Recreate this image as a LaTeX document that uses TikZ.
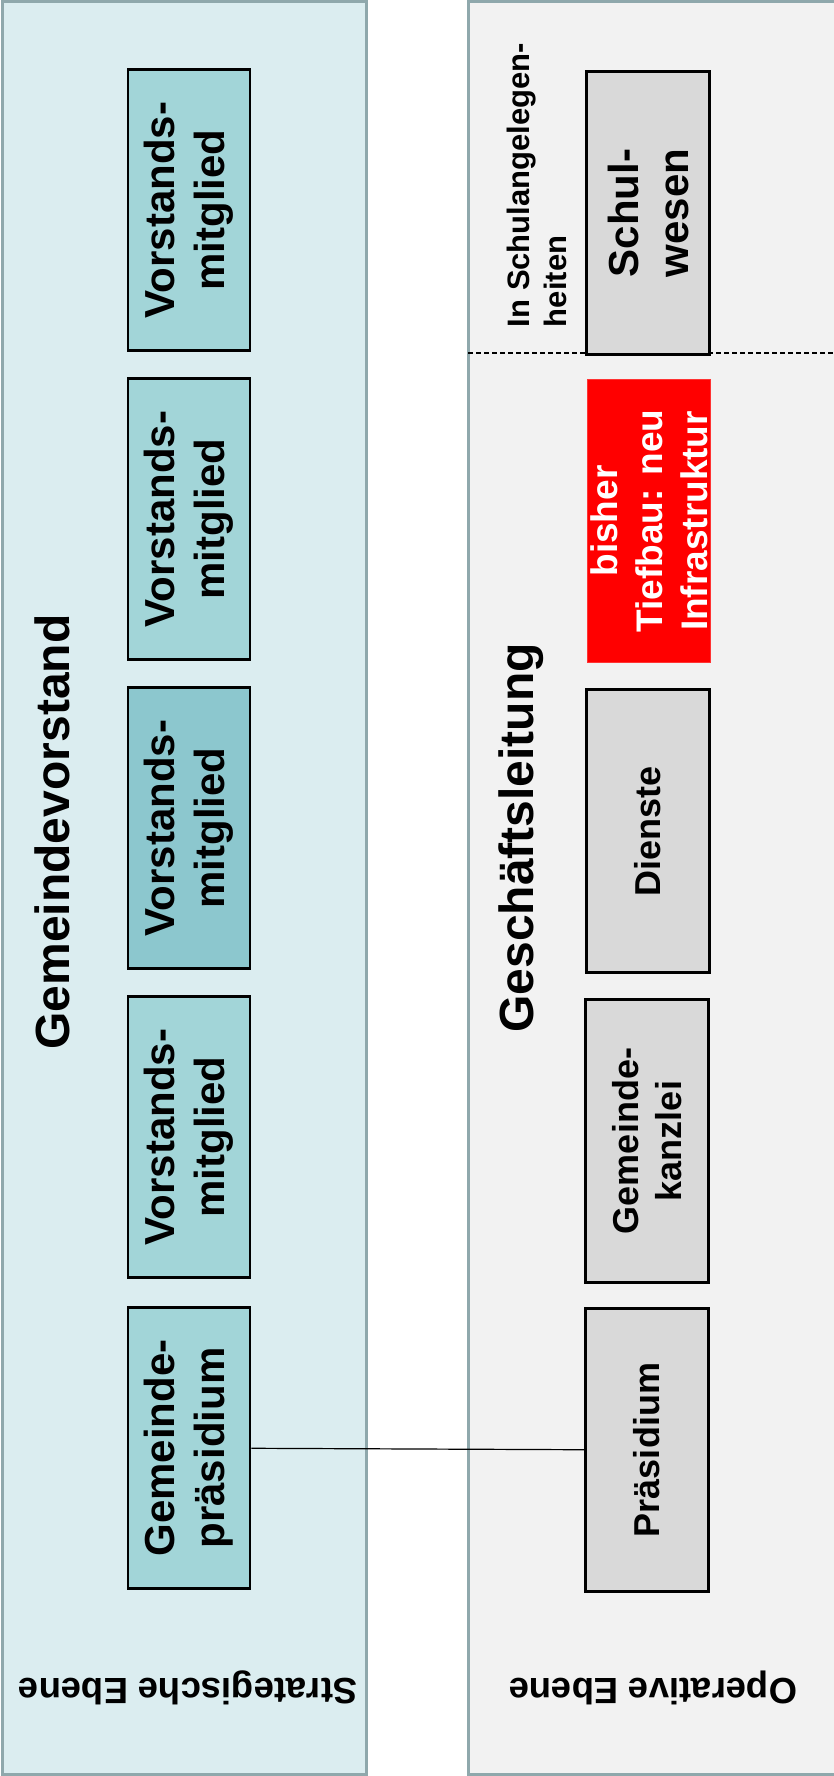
\documentclass[tikz,border=0pt]{standalone}
\usepackage{fontspec}
\setmainfont{Liberation Sans}
\definecolor{panelline}{RGB}{143,168,172}
\definecolor{strfill}{RGB}{219,237,240}
\definecolor{opfill}{RGB}{242,242,242}
\definecolor{gvfill}{RGB}{162,213,216}
\definecolor{gvdark}{RGB}{140,199,206}
\definecolor{glfill}{RGB}{217,217,217}
\begin{document}
\begin{tikzpicture}[x=1pt,y=-1pt,
  panel/.style={draw=panelline, line width=3pt},
  gvbox/.style={draw, line width=2.5pt, fill=gvfill, rotate=90, minimum width=281pt, minimum height=122pt, inner sep=0pt, align=center, font=\bfseries\fontsize{42}{50}\selectfont},
  glbox/.style={draw, line width=2.5pt, fill=glfill, rotate=90, minimum width=283pt, minimum height=123pt, inner sep=0pt, align=center, font=\bfseries\fontsize{36}{43}\selectfont},
  title/.style={rotate=90, font=\bfseries\fontsize{48}{56}\selectfont},
  ebene/.style={rotate=180, font=\bfseries\fontsize{36.5}{44}\selectfont}]
\useasboundingbox (0,0) rectangle (833,1776);
\draw[panel, fill=strfill] (2,2) rectangle (366,1774);
\draw[panel, fill=opfill] (468,2) rectangle (838,1774);
\coordinate (sepl) at (468,353);
\coordinate (sepr) at (833,353);
\draw[dash pattern=on 5pt off 3pt, line width=1.2pt] (sepl) -- (sepr);
\node[title] (gv) at (52,832){Gemeindevorstand};
\node[ebene] (strat) at (188,1688){Strategische Ebene};
\node[gvbox] (vm1) at (189,210){Vorstands-\\mitglied};
\node[gvbox] (vm2) at (189,519){Vorstands-\\mitglied};
\node[gvbox, fill=gvdark] (vm3) at (189,828){Vorstands-\\mitglied};
\node[gvbox] (vm4) at (189,1137){Vorstands-\\mitglied};
\node[gvbox] (gpraes) at (189,1448){Gemeinde-\\präsidium};
\node[title] (gl) at (521,838){Geschäftsleitung};
\node[ebene] (oper) at (653,1688){Operative Ebene};
\node[rotate=90, align=left, font=\bfseries\fontsize{31}{37}\selectfont] (schulang) at (537,185){In Schulangelegen-\\heiten};
\node[glbox, font=\bfseries\fontsize{42}{50}\selectfont] (schul) at (648,213){Schul-\\wesen};
\node[glbox, draw=red!80, line width=0.5pt, fill=red, text=white, font=\bfseries\fontsize{37}{45}\selectfont] (tief) at (649,521){bisher\\Tiefbau: neu\\Infrastruktur};
\node[glbox] (dienste) at (648,831){Dienste};
\node[glbox] (kanzlei) at (647,1141){Gemeinde-\\kanzlei};
\node[glbox] (praes) at (647,1450){Präsidium};
\draw[line width=1.2pt](gpraes) -- (praes);
\end{tikzpicture}
\end{document}
